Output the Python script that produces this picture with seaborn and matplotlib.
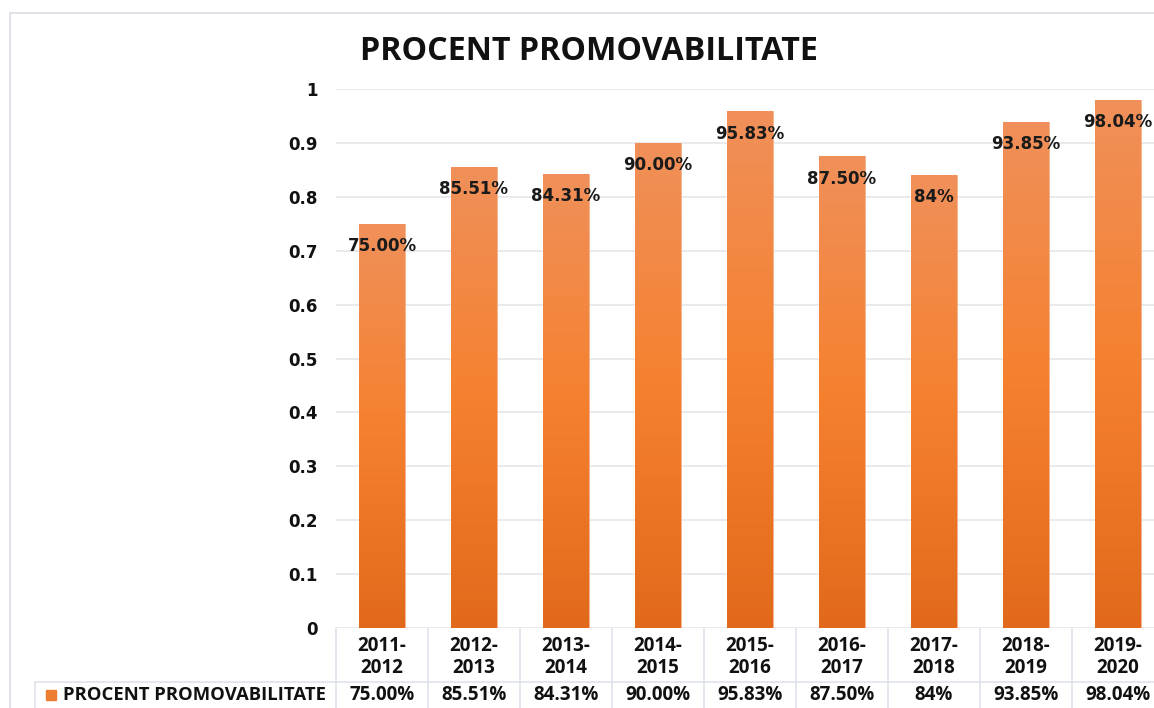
import matplotlib.pyplot as plt
import matplotlib.colors as mcolors
from matplotlib.lines import Line2D
from matplotlib.patches import Rectangle
import numpy as np
import pandas as pd
import seaborn as sns

# %%
years = ['2011-\n2012', '2012-\n2013', '2013-\n2014', '2014-\n2015', '2015-\n2016',
         '2016-\n2017', '2017-\n2018', '2018-\n2019', '2019-\n2020']
rates = [0.75, 0.8551, 0.8431, 0.90, 0.9583, 0.875, 0.84, 0.9385, 0.9804]
rate_labels = ['75.00%', '85.51%', '84.31%', '90.00%', '95.83%', '87.50%', '84%', '93.85%', '98.04%']
series_name = 'PROCENT PROMOVABILITATE'

df = pd.DataFrame({'an': years, 'rata': rates})

# %%
sns.set_theme(style='white')
plt.rcParams['font.family'] = ['Open Sans', 'DejaVu Sans']
plt.rcParams['font.weight'] = 'bold'
wide = ['DejaVu Sans']

W, H = 1154, 708
fig = plt.figure(figsize=(W / 100, H / 100), dpi=100)
ax = fig.add_axes([336 / W, (H - 628) / H, (1164 - 336) / W, (628 - 89) / H])

sns.barplot(data=df, x='an', y='rata', color='#ED7D31', width=0.5, ax=ax, zorder=2)

# vertical gradient on each bar, light at top, darker at the base
grad = mcolors.LinearSegmentedColormap.from_list(
    'bar', ['#E2691B', '#F5812F', '#F0905A'])
for p in ax.patches:
    x0, y0 = p.get_x(), p.get_y()
    w, h = p.get_width(), p.get_height()
    img = ax.imshow(np.linspace(0, 1, 256).reshape(-1, 1), cmap=grad, origin='lower',
                    extent=(x0, x0 + w, y0, y0 + h), aspect='auto', zorder=3)
    img.set_clip_path(p)
    p.set_edgecolor('#F4B48C')
    p.set_linewidth(0.6)

ax.set_xlim(-0.5, len(years) - 0.5)
ax.set_ylim(0, 1)
ax.set_yticks(np.arange(0, 1.01, 0.1), ['0', '0.1', '0.2', '0.3', '0.4', '0.5',
                                          '0.6', '0.7', '0.8', '0.9', '1'])
for t in ax.get_yticklabels():
    t.set_family(wide)
ax.grid(axis='y', color='#E3E4EA', linewidth=1.1, zorder=0)
ax.set_axisbelow(True)
for s in ax.spines.values():
    s.set_visible(False)
ax.tick_params(axis='y', length=0, pad=13, labelsize=12, labelcolor='#111111')
ax.set_xticks(range(len(years)), years)
ax.tick_params(axis='x', length=0, pad=5.5, labelsize=13.5, labelcolor='#111111')
for t in ax.get_xticklabels():
    t.set_linespacing(1.15)
ax.set_xlabel('')
ax.set_ylabel('')

# data labels inside the bar ends
for i, (v, lab) in enumerate(zip(rates, rate_labels)):
    ax.annotate(lab, (i, v), xytext=(0, -16), textcoords='offset points',
                ha='center', va='center', fontsize=12, family=wide,
                color='#1A1A1A', zorder=5)

# data table under the axis
tr = ax.get_xaxis_transform()
line_kw = dict(color='#DDE0E8', linewidth=1.1, clip_on=False, transform=tr)
for i in range(len(years) + 1):
    ax.add_line(Line2D([i - 0.5, i - 0.5], [0, -0.16], **line_kw))
for i, lab in enumerate(rate_labels):
    ax.text(i, -0.124, lab, transform=tr, ha='center', va='center',
            fontsize=13.5, color='#111111')

fig.add_artist(Line2D([35 / W, 1], [(H - 682) / H] * 2, color='#DDE0E8', linewidth=1.1))
fig.add_artist(Line2D([35 / W, 35 / W], [0, (H - 682) / H], color='#DDE0E8', linewidth=1.1))
fig.add_artist(Rectangle((46 / W, (H - 700) / H), 10 / W, 10 / H,
                         color='#ED7D31', transform=fig.transFigure))
fig.text(63 / W, (H - 695) / H, series_name, ha='left', va='center',
         fontsize=13.3, color='#111111')

# chart area border
fig.add_artist(Line2D([10 / W, 1], [(H - 13) / H] * 2, color='#DEE1E7', linewidth=1.3))
fig.add_artist(Line2D([10 / W, 10 / W], [0, (H - 13) / H], color='#DEE1E7', linewidth=1.3))

fig.text(589 / W, (H - 51) / H, series_name, ha='center', va='center',
         fontsize=23.2, color='#111111')

fig.savefig('out.png', dpi=100)
